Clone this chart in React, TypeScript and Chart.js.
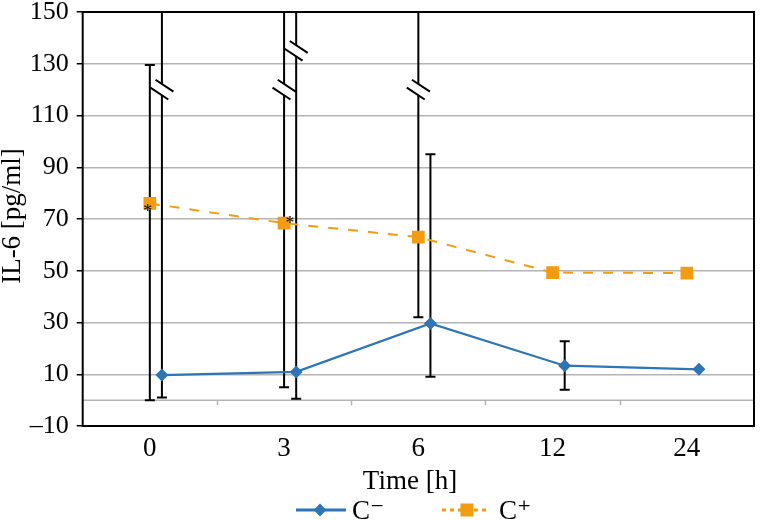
import React, { useEffect, useRef } from 'react';
import { Chart, registerables } from 'chart.js';

Chart.register(...registerables);

// ---- data ----
const CATEGORIES = ['0', '3', '6', '12', '24'];
const Y_TICKS = [-10, 10, 30, 50, 70, 90, 110, 130, 150];
const C_MINUS = [9.7, 10.9, 29.6, 13.3, 11.9];
const C_PLUS = [76, 68.4, 63, 49.3, 49.1];
// error bar ends (values above the axis maximum are cut by an axis break)
const C_MINUS_ERR_LOW = [1, 0.5, 9, 4, null];
const C_MINUS_ERR_HIGH = [200, 200, 95, 22.8, null];
const C_PLUS_ERR_LOW = [0, 5, 32, null, null];
const C_PLUS_ERR_HIGH = [129.5, 200, 200, null, null];
// value at which the "//" break symbol is drawn on a cut error bar
const C_MINUS_BREAK = [120, 135, null, null, null];
const C_PLUS_BREAK = [null, 120, 120, null, null];
// significance markers on C+
const C_PLUS_STAR = [true, true, false, false, false];

const SERIES_NAMES = ['C\u207B', 'C\u207A'];

// ---- style ----
const BLUE = '#2e75b6';
const ORANGE = '#f29c11';
const GRID = '#b4b4b4';
const FONT_FAMILY = '"Liberation Serif", "DejaVu Serif", "Times New Roman", serif';
const X_OFF_MINUS = 0.09;
const X_OFF_PLUS = 0;
const STAR_OFFSETS = [
  [-2, 4],
  [6, -4],
];

const decor = {
  id: 'decor',
  beforeDatasetsDraw(chart: any) {
    const { ctx, chartArea: a, scales } = chart;
    const x = scales.x;
    const y = scales.y;
    ctx.save();
    // zero line with category tick marks
    const y0 = y.getPixelForValue(0);
    ctx.strokeStyle = GRID;
    ctx.lineWidth = 1.5;
    ctx.beginPath();
    ctx.moveTo(a.left, y0);
    ctx.lineTo(a.right, y0);
    for (let i = 0; i < CATEGORIES.length - 1; i++) {
      const px = Math.round(x.getPixelForValue(i + 0.5)) + 0.5;
      ctx.moveTo(px, y0);
      ctx.lineTo(px, y0 + 5);
    }
    ctx.stroke();

    // frame
    ctx.strokeStyle = '#000';
    ctx.lineWidth = 2;
    ctx.strokeRect(a.left, a.top, a.right - a.left, a.bottom - a.top);

    const drawErr = (lows: any[], highs: any[], breaks: any[], off: number) => {
      const ymax = y.max;
      for (let i = 0; i < lows.length; i++) {
        const lo = lows[i];
        const hi = highs[i];
        if (lo == null || hi == null) continue;
        const px = x.getPixelForValue(i + off);
        const pLo = y.getPixelForValue(lo);
        const cut = hi > ymax;
        const pHi = cut ? a.top : y.getPixelForValue(hi);
        ctx.strokeStyle = '#000';
        ctx.lineWidth = 2;
        ctx.beginPath();
        ctx.moveTo(px, pLo);
        ctx.lineTo(px, pHi);
        ctx.moveTo(px - 5, pLo);
        ctx.lineTo(px + 5, pLo);
        if (!cut) {
          ctx.moveTo(px - 5, pHi);
          ctx.lineTo(px + 5, pHi);
        }
        ctx.stroke();
        const b = breaks[i];
        if (b != null) {
          const cy = y.getPixelForValue(b);
          const dx = 0.83, dy = 0.55;
          const nx = -0.55, ny = 0.83;
          const sep = 4.7, half = 10.8;
          // white gap
          ctx.fillStyle = '#fff';
          ctx.beginPath();
          ctx.moveTo(px - nx * sep - dx * 6, cy - ny * sep - dy * 6);
          ctx.lineTo(px - nx * sep + dx * 6, cy - ny * sep + dy * 6);
          ctx.lineTo(px + nx * sep + dx * 6, cy + ny * sep + dy * 6);
          ctx.lineTo(px + nx * sep - dx * 6, cy + ny * sep - dy * 6);
          ctx.closePath();
          ctx.fill();
          ctx.beginPath();
          for (const s of [-sep, sep]) {
            const cx0 = px + nx * s;
            const cy0 = cy + ny * s;
            ctx.moveTo(cx0 - dx * half, cy0 - dy * half);
            ctx.lineTo(cx0 + dx * half, cy0 + dy * half);
          }
          ctx.stroke();
        }
      }
    };
    drawErr(C_PLUS_ERR_LOW, C_PLUS_ERR_HIGH, C_PLUS_BREAK, X_OFF_PLUS);
    drawErr(C_MINUS_ERR_LOW, C_MINUS_ERR_HIGH, C_MINUS_BREAK, X_OFF_MINUS);
    ctx.restore();
  },
  afterDatasetsDraw(chart: any) {
    const { ctx, scales } = chart;
    const x = scales.x;
    const y = scales.y;
    ctx.save();
    ctx.fillStyle = '#000';
    ctx.font = `18px ${FONT_FAMILY}`;
    ctx.textAlign = 'center';
    ctx.textBaseline = 'alphabetic';
    let k = 0;
    C_PLUS_STAR.forEach((s, i) => {
      if (!s) return;
      const o = STAR_OFFSETS[k++] || [0, 0];
      const px = x.getPixelForValue(i + X_OFF_PLUS) + o[0];
      const py = y.getPixelForValue(C_PLUS[i]) + o[1];
      ctx.fillText('*', px, py + 10);
    });
    ctx.restore();
  },
  afterDraw(chart: any) {
    const { ctx } = chart;
    ctx.save();
    ctx.fillStyle = '#000';
    // x title
    ctx.font = `27px ${FONT_FAMILY}`;
    ctx.textAlign = 'center';
    ctx.textBaseline = 'alphabetic';
    ctx.fillText('Time [h]', 410, 488.5);
    // y title
    ctx.save();
    ctx.translate(20, 216);
    ctx.rotate(-Math.PI / 2);
    ctx.font = `27px ${FONT_FAMILY}`;
    ctx.textAlign = 'center';
    ctx.textBaseline = 'alphabetic';
    ctx.fillText('IL-6 [pg/ml]', 0, 0);
    ctx.restore();

    // legend
    const ly = 510;
    const ds = chart.data.datasets;
    // C-
    ctx.strokeStyle = ds[0].borderColor;
    ctx.lineWidth = 3;
    ctx.beginPath();
    ctx.moveTo(296, ly);
    ctx.lineTo(346, ly);
    ctx.stroke();
    ctx.fillStyle = ds[0].backgroundColor;
    ctx.beginPath();
    ctx.moveTo(320 - 6.5, ly);
    ctx.lineTo(320, ly - 6.5);
    ctx.lineTo(320 + 6.5, ly);
    ctx.lineTo(320, ly + 6.5);
    ctx.closePath();
    ctx.fill();
    // C+
    ctx.strokeStyle = ds[1].borderColor;
    ctx.setLineDash([4, 4]);
    ctx.beginPath();
    ctx.moveTo(442, ly);
    ctx.lineTo(490, ly);
    ctx.stroke();
    ctx.setLineDash([]);
    ctx.fillStyle = ds[1].backgroundColor;
    ctx.fillRect(467 - 6.5, ly - 6.5, 13, 13);
    ctx.fillStyle = '#000';
    ctx.font = `27px ${FONT_FAMILY}`;
    ctx.textAlign = 'left';
    ctx.textBaseline = 'alphabetic';
    ctx.fillText(ds[0].label, 352, 519);
    ctx.fillText(ds[1].label, 499, 519);
    ctx.restore();
  },
};

export default function App() {
  const ref = useRef<HTMLCanvasElement | null>(null);
  useEffect(() => {
    if (!ref.current) return;
    const font = { family: FONT_FAMILY, size: 26 };
    const chart = new Chart(ref.current, {
      type: 'line',
      data: {
        datasets: [
          {
            label: SERIES_NAMES[0],
            data: C_MINUS.map((v, i) => ({ x: i + X_OFF_MINUS, y: v })),
            borderColor: BLUE,
            backgroundColor: BLUE,
            borderWidth: 2.25,
            pointStyle: 'rectRot',
            pointRadius: 6.5,
            pointBorderWidth: 0,
            tension: 0,
          },
          {
            label: SERIES_NAMES[1],
            data: C_PLUS.map((v, i) => ({ x: i + X_OFF_PLUS, y: v })),
            borderColor: ORANGE,
            backgroundColor: ORANGE,
            borderWidth: 2,
            borderDash: [10, 10],
            pointStyle: 'rect',
            pointRadius: 9,
            pointBorderWidth: 0,
            tension: 0,
          },
        ],
      },
      options: {
        responsive: false,
        animation: false,
        events: [],
        layout: { padding: { top: 12, right: 2.3, left: 0, bottom: 0 } },
        plugins: { legend: { display: false }, tooltip: { enabled: false } },
        scales: {
          x: {
            type: 'linear',
            min: -0.5,
            max: CATEGORIES.length - 0.5,
            afterBuildTicks: (s: any) => {
              s.ticks = CATEGORIES.map((_, i) => ({ value: i }));
            },
            afterFit: (s: any) => {
              s.height = 94;
              s.paddingLeft = 0;
              s.paddingRight = 0;
            },
            grid: { display: false, drawTicks: false },
            border: { display: false },
            ticks: {
              callback: (v: any) => CATEGORIES[Math.round(Number(v))],
              font: { family: FONT_FAMILY, size: 27 },
              color: '#000',
              padding: 7,
              maxRotation: 0,
              autoSkip: false,
            },
          },
          y: {
            type: 'linear',
            min: -10,
            max: 150,
            afterBuildTicks: (s: any) => {
              s.ticks = Y_TICKS.map((v) => ({ value: v }));
            },
            afterFit: (s: any) => {
              s.width = 82.7;
              s.paddingTop = 0;
              s.paddingBottom = 0;
            },
            grid: { color: GRID, lineWidth: 1.5, tickColor: '#000', tickLength: 6, tickWidth: 1.5 },
            border: { display: false },
            ticks: {
              font,
              color: '#000',
              padding: 8,
              callback: (v: any) => (Number(v) < 0 ? '\u2013' + Math.abs(Number(v)) : String(v)),
            },
          },
        },
      },
      plugins: [decor],
    });
    return () => chart.destroy();
  }, []);
  return (
    <div style={{ position: 'fixed', left: 0, top: 0, width: 763, height: 520, background: '#fff' }}>
      <canvas ref={ref} width={763} height={520} style={{ display: 'block' }} />
    </div>
  );
}
